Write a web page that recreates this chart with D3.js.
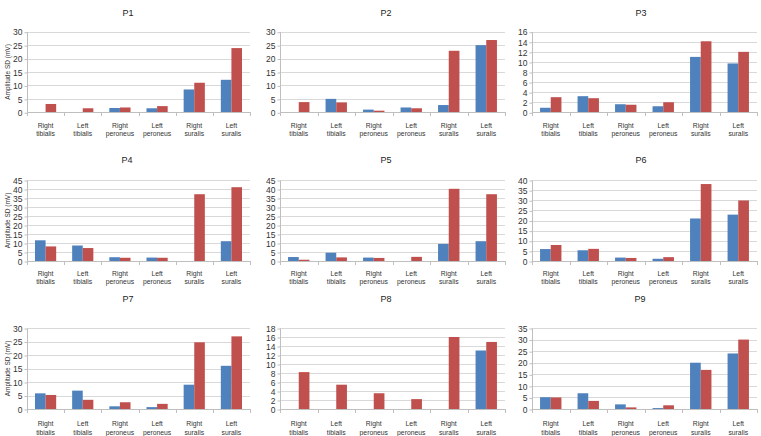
<!DOCTYPE html>
<html>
<head>
<meta charset="utf-8">
<script src="https://cdn.jsdelivr.net/npm/d3@7"></script>
<style>
  html, body { margin: 0; padding: 0; background: #fff; }
  svg { display: block; font-family: "Liberation Sans", Arial, sans-serif; }
</style>
</head>
<body>
<svg id="chart" width="761" height="436"></svg>
<script>
// ---- data ----
const categories = [["Right", "tibialis"], ["Left", "tibialis"], ["Right", "peroneus"],
                    ["Left", "peroneus"], ["Right", "suralis"], ["Left", "suralis"]];
const patients = ["P1", "P2", "P3", "P4", "P5", "P6", "P7", "P8", "P9"];
const blueValues = [
  [0, 0, 1.6, 1.5, 8.5, 12.1],
  [0, 5.0, 1.0, 1.8, 2.7, 25.0],
  [0.9, 3.2, 1.6, 1.2, 11.0, 9.7],
  [11.5, 8.6, 2.1, 1.9, 0, 11.0],
  [2.2, 4.6, 1.9, 0, 9.5, 11.0],
  [5.9, 5.3, 1.7, 1.1, 21.0, 22.9],
  [5.8, 6.8, 1.0, 0.7, 9.0, 16.0],
  [0, 0, 0, 0, 0, 13.0],
  [5.1, 6.8, 2.0, 0.4, 20.0, 24.0]
];
const redValues = [
  [3.1, 1.5, 1.8, 2.3, 11.0, 23.9],
  [3.8, 3.7, 0.6, 1.5, 22.9, 26.9],
  [3.0, 2.8, 1.5, 2.0, 14.1, 12.0],
  [8.1, 7.2, 1.8, 1.8, 37.1, 41.0],
  [0.7, 2.0, 1.7, 2.3, 40.1, 37.1],
  [7.9, 6.0, 1.5, 1.9, 38.0, 29.9],
  [5.2, 3.4, 2.5, 1.9, 24.7, 26.9],
  [8.2, 5.4, 3.5, 2.2, 16.0, 14.9],
  [5.0, 3.5, 0.7, 1.6, 16.9, 30.0]
];
const yMax = [30, 30, 16, 45, 45, 40, 30, 18, 35];
const yStep = [5, 5, 2, 5, 5, 5, 5, 2, 5];
const yAxisTitle = "Amplitude SD (mV)";

// ---- layout ----
const colX = [[27, 250], [280, 505], [532, 757]];
const titleX = [[128, 386, 641], [127, 386, 641], [128, 386, 640]];
const rowY = [
  { title: 13, top: 31.7, bottom: 112.3, lab: 125.5 },
  { title: 160, top: 180, bottom: 261, lab: 273.5 },
  { title: 299, top: 328, bottom: 409, lab: 424 }
];
const blue = "#4F81BD", red = "#C0504D";

const svg = d3.select("#chart");

patients.forEach((p, i) => {
  const r = Math.floor(i / 3), c = i % 3;
  const L = rowY[r], [x0, x1] = colX[c];
  const g = svg.append("g");

  const x = d3.scaleBand().domain(d3.range(6)).range([x0, x1])
    .paddingInner(0.43).paddingOuter(0.215);
  const xs = d3.scaleBand().domain([0, 1]).range([0, x.bandwidth()]);
  const y = d3.scaleLinear().domain([0, yMax[i]]).range([L.bottom, L.top]);
  const ticks = d3.range(0, yMax[i] + 0.001, yStep[i]);

  // gridlines
  g.append("g").selectAll("line").data(ticks.filter(t => t > 0)).join("line")
    .attr("x1", x0).attr("x2", x1)
    .attr("y1", d => Math.round(y(d)) + 0.5).attr("y2", d => Math.round(y(d)) + 0.5)
    .attr("stroke", "#d9d9d9").attr("stroke-width", 1);

  // y axis
  const ya = d3.axisLeft(y).tickValues(ticks).tickSize(3).tickPadding(2).tickFormat(d3.format("d"));
  const yg = g.append("g").attr("transform", `translate(${x0 + 0.5},0.5)`).call(ya);
  yg.select(".domain").attr("stroke", "#bfbfbf").attr("d", `M0,${L.bottom - 0.5}V${L.top}`);
  yg.selectAll(".tick line").attr("stroke", "#bfbfbf");
  yg.selectAll(".tick text").attr("font-size", 8.5).attr("fill", "#333").attr("font-family", null);

  // bars
  const rows = d3.range(6).map(k => [blueValues[i][k], redValues[i][k]]);
  g.append("g").selectAll("g").data(rows).join("g")
    .attr("transform", (d, k) => `translate(${x(k)},0)`)
    .selectAll("rect").data(d => d).join("rect")
    .attr("x", (d, s) => xs(s)).attr("width", xs.bandwidth())
    .attr("y", d => y(d)).attr("height", d => y(0) - y(d))
    .attr("fill", (d, s) => s === 0 ? blue : red);

  // x axis line + ticks at boundaries
  const step = x.step();
  g.append("line").attr("x1", x0).attr("x2", x1)
    .attr("y1", Math.round(y(0)) + 0.5).attr("y2", Math.round(y(0)) + 0.5)
    .attr("stroke", "#bfbfbf");
  g.append("g").selectAll("line").data(d3.range(7)).join("line")
    .attr("x1", k => Math.round(x0 + k * step) + 0.5).attr("x2", k => Math.round(x0 + k * step) + 0.5)
    .attr("y1", Math.round(y(0))).attr("y2", Math.round(y(0)) + 4)
    .attr("stroke", "#bfbfbf");

  // category labels
  const lab = g.append("g").selectAll("text").data(categories).join("text")
    .attr("x", (d, k) => x(k) + x.bandwidth() / 2)
    .attr("y", L.lab)
    .attr("text-anchor", "middle").attr("font-size", 6.8).attr("fill", "#333");
  lab.append("tspan").attr("x", (d, k) => x(k) + x.bandwidth() / 2).attr("dy", "0.35em").text(d => d[0]);
  lab.append("tspan").attr("x", (d, k) => x(k) + x.bandwidth() / 2).attr("dy", "1.25em").text(d => d[1]);

  // title
  g.append("text").attr("x", titleX[r][c]).attr("y", L.title).attr("dy", "0.35em")
    .attr("text-anchor", "middle").attr("font-size", 9).attr("fill", "#222").text(p);

  // y axis title on first column
  if (c === 0) {
    g.append("text")
      .attr("transform", `translate(8,${(L.top + L.bottom) / 2}) rotate(-90)`)
      .attr("text-anchor", "middle").attr("dy", "0.35em")
      .attr("font-size", 6.5).attr("fill", "#333").text(yAxisTitle);
  }
});
</script>
</body>
</html>
